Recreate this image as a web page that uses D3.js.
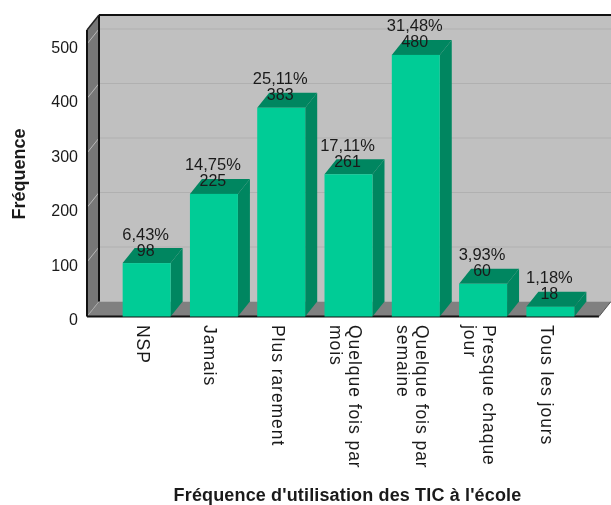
<!DOCTYPE html>
<html><head><meta charset="utf-8">
<script src="https://cdn.jsdelivr.net/npm/d3@7"></script>
<style>html,body{margin:0;background:#fff}svg{display:block;filter:blur(.45px)}text{font-family:"Liberation Sans",Arial,sans-serif;fill:#1a1a1a}</style>
</head><body><svg id="c" width="611" height="505"></svg>
<script>
const categories=["NSP","Jamais","Plus rarement","Quelque fois par|mois","Quelque fois par|semaine","Presque chaque|jour","Tous les jours"];
const counts=[98,225,383,261,480,60,18];
const percents=["6,43%","14,75%","25,11%","17,11%","31,48%","3,93%","1,18%"];
const yTicks=[0,100,200,300,400,500];
const xTitle="Fréquence d'utilisation des TIC à l'école";
const yTitle="Fréquence";

const dx=12,dy=15;
const left=87,right=599,base=316.5,top0=30;
const svg=d3.select("#c");
const y=d3.scaleLinear().domain([0,500]).range([base,44]);
const x=d3.scaleBand().domain(categories).range([113,584]).paddingInner(.287).paddingOuter(.1435);
const poly=(pts,fill)=>svg.append("polygon").attr("points",pts.map(p=>p.join(",")).join(" ")).attr("fill",fill);
const line=(a,b,c,w)=>svg.append("line").attr("x1",a[0]).attr("y1",a[1]).attr("x2",b[0]).attr("y2",b[1]).attr("stroke",c).attr("stroke-width",w);

// walls
poly([[left+dx,top0-dy],[right+dx,top0-dy],[right+dx,base-dy],[left+dx,base-dy]],"#c0c0c0");
poly([[left,top0],[left+dx,top0-dy],[left+dx,base-dy],[left,base]],"#777777");
poly([[left,base],[left+dx,base-dy],[right+dx,base-dy],[right,base]],"#808080");
// grid
yTicks.filter(d=>d>0).forEach(d=>{
  line([left+dx,y(d)-dy],[right+dx,y(d)-dy],"#b0b0b0",1);
  line([left,y(d)],[left+dx,y(d)-dy],"#b8b8b8",1);
});
line([left,base],[left+dx,base-dy],"#a8a8a8",1);
// frame
line([left,top0],[left,base],"#111",2);
line([left+dx,top0-dy],[left+dx,base-dy],"#111",2);
line([left,top0],[left+dx,top0-dy],"#222",1.5);
line([left+dx,top0-dy],[right+dx,top0-dy],"#111",2);
line([left,base],[right,base],"#111",2);
line([right,base],[right+dx,base-dy],"#555",1);

// bars
categories.forEach((c,i)=>{
  const x0=x(c),x1=x0+x.bandwidth(),t=y(counts[i]);
  poly([[x1,t],[x1+dx,t-dy],[x1+dx,base-dy],[x1,base]],"#008660");
  poly([[x0,t],[x0+dx,t-dy],[x1+dx,t-dy],[x1,t]],"#008660");
  svg.append("rect").attr("x",x0).attr("y",t).attr("width",x.bandwidth()).attr("height",base-t).attr("fill","#00cc96");
});
// bar labels
categories.forEach((c,i)=>{
  const cx=x(c)+x.bandwidth()/2-1,t=y(counts[i])-dy;
  svg.append("text").attr("x",cx).attr("y",t+7.5).attr("text-anchor","middle").attr("font-size",16).text(counts[i]);
  svg.append("text").attr("x",cx).attr("y",t-8.5).attr("text-anchor","middle").attr("font-size",16.5).text(percents[i]);
});
// y axis
yTicks.forEach(d=>{
  svg.append("text").attr("x",78).attr("y",y(d)+8.5).attr("text-anchor","end").attr("font-size",16).text(d);
});
// x tick labels
categories.forEach(c=>{
  const cx=x(c)+x.bandwidth()/2;
  const parts=c.split("|");
  parts.forEach((s,j)=>{
    const off=parts.length>1?(j===0?9.5:-9.5):0;
    svg.append("text").attr("transform",`translate(${cx+off-9.5},325) rotate(90)`)
      .attr("font-size",17.5).attr("letter-spacing",.95).text(s);
  });
});
// titles
svg.append("text").attr("x",347.5).attr("y",501).attr("text-anchor","middle").attr("font-size",18).attr("letter-spacing",.15).attr("font-weight","bold").text(xTitle);
svg.append("text").attr("transform","translate(24.5,174) rotate(-90)").attr("text-anchor","middle").attr("font-size",18).attr("font-weight","bold").text(yTitle);
</script></body></html>
